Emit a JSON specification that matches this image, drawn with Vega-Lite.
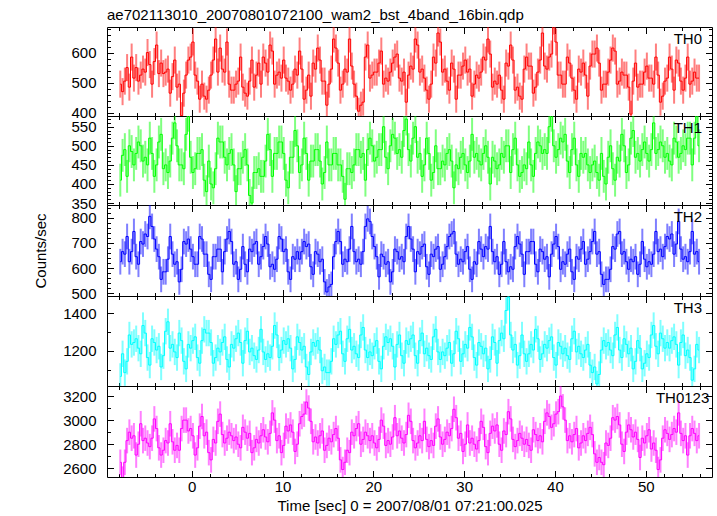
{
"$schema":"https://vega.github.io/schema/vega-lite/v6.json",
"padding":{"left":33,"top":7,"right":5,"bottom":3},
"config":{"view":{"stroke":null},"axis":{"grid":false,"domainColor":"#000","tickColor":"#000","labelColor":"#000","labelFont":"Liberation Sans","labelFontSize":15,"titleFont":"Liberation Sans","titleFontSize":15,"titleFontWeight":"normal","titleColor":"#000","labelFlush":false},"axisX":{"labelPadding":9,"titlePadding":4},"axisY":{"labelPadding":17.5,"titlePadding":22,"format":"d"}},
"spacing":0,
"bounds":"flush",
"data":{"values":[
{"t":-7.875,"a":495,"b":410,"c":625,"d":1065,"e":2650},
{"t":-7.625,"a":470,"b":475,"c":665,"d":1185,"e":2510},
{"t":-7.375,"a":505,"b":490,"c":655,"d":1085,"e":2650},
{"t":-7.125,"a":550,"b":420,"c":725,"d":1145,"e":2830},
{"t":-6.875,"a":485,"b":500,"c":625,"d":1285,"e":2900},
{"t":-6.625,"a":585,"b":485,"c":665,"d":1235,"e":2850},
{"t":-6.375,"a":515,"b":450,"c":745,"d":1245,"e":2870},
{"t":-6.125,"a":550,"b":480,"c":645,"d":1265,"e":2710},
{"t":-5.875,"a":505,"b":510,"c":615,"d":1215,"e":2800},
{"t":-5.625,"a":525,"b":500,"c":705,"d":1185,"e":2970},
{"t":-5.375,"a":545,"b":460,"c":695,"d":1335,"e":2830},
{"t":-5.125,"a":535,"b":470,"c":735,"d":1295,"e":2850},
{"t":-4.875,"a":600,"b":450,"c":725,"d":1165,"e":2810},
{"t":-4.625,"a":560,"b":520,"c":805,"d":1125,"e":2780},
{"t":-4.375,"a":495,"b":480,"c":765,"d":1265,"e":2850},
{"t":-4.125,"a":570,"b":420,"c":715,"d":1245,"e":3010},
{"t":-3.875,"a":625,"b":450,"c":675,"d":1205,"e":2930},
{"t":-3.625,"a":530,"b":510,"c":645,"d":1225,"e":2770},
{"t":-3.375,"a":565,"b":530,"c":555,"d":1115,"e":2710},
{"t":-3.125,"a":530,"b":440,"c":585,"d":1175,"e":2750},
{"t":-2.875,"a":535,"b":450,"c":585,"d":1305,"e":2830},
{"t":-2.625,"a":545,"b":430,"c":635,"d":1355,"e":2810},
{"t":-2.375,"a":465,"b":460,"c":725,"d":1215,"e":2970},
{"t":-2.125,"a":520,"b":520,"c":655,"d":1235,"e":2820},
{"t":-1.875,"a":575,"b":560,"c":615,"d":1195,"e":2750},
{"t":-1.625,"a":485,"b":500,"c":625,"d":1165,"e":2790},
{"t":-1.375,"a":495,"b":450,"c":545,"d":1295,"e":2750},
{"t":-1.125,"a":390,"b":450,"c":595,"d":1255,"e":2930},
{"t":-0.875,"a":465,"b":440,"c":705,"d":1145,"e":3000},
{"t":-0.625,"a":525,"b":530,"c":695,"d":1105,"e":3000},
{"t":-0.375,"a":575,"b":580,"c":715,"d":1235,"e":2910},
{"t":-0.125,"a":585,"b":470,"c":675,"d":1215,"e":2930},
{"t":0.125,"a":635,"b":430,"c":645,"d":1255,"e":2870},
{"t":0.375,"a":525,"b":440,"c":615,"d":1275,"e":2710},
{"t":0.625,"a":505,"b":480,"c":615,"d":1165,"e":2770},
{"t":0.875,"a":445,"b":480,"c":725,"d":1135,"e":2950},
{"t":1.125,"a":495,"b":490,"c":715,"d":1255,"e":3030},
{"t":1.375,"a":455,"b":410,"c":655,"d":1315,"e":2870},
{"t":1.625,"a":445,"b":380,"c":655,"d":1295,"e":2900},
{"t":1.875,"a":475,"b":460,"c":575,"d":1295,"e":2730},
{"t":2.125,"a":525,"b":400,"c":555,"d":1245,"e":2670},
{"t":2.375,"a":575,"b":390,"c":645,"d":1135,"e":2840},
{"t":2.625,"a":645,"b":440,"c":645,"d":1165,"e":2810},
{"t":2.875,"a":535,"b":520,"c":675,"d":1215,"e":2990},
{"t":3.125,"a":615,"b":510,"c":675,"d":1195,"e":3050},
{"t":3.375,"a":545,"b":510,"c":585,"d":1245,"e":2880},
{"t":3.625,"a":535,"b":470,"c":665,"d":1275,"e":2810},
{"t":3.875,"a":635,"b":450,"c":715,"d":1155,"e":2850},
{"t":4.125,"a":495,"b":480,"c":745,"d":1115,"e":2900},
{"t":4.375,"a":475,"b":490,"c":705,"d":1235,"e":2870},
{"t":4.625,"a":475,"b":450,"c":615,"d":1215,"e":2830},
{"t":4.875,"a":495,"b":380,"c":625,"d":1265,"e":2860},
{"t":5.125,"a":505,"b":440,"c":555,"d":1295,"e":2800},
{"t":5.375,"a":585,"b":440,"c":595,"d":1245,"e":2770},
{"t":5.625,"a":485,"b":470,"c":685,"d":1135,"e":2940},
{"t":5.875,"a":465,"b":490,"c":615,"d":1255,"e":2900},
{"t":6.125,"a":455,"b":450,"c":585,"d":1305,"e":2850},
{"t":6.375,"a":505,"b":370,"c":675,"d":1195,"e":2890},
{"t":6.625,"a":575,"b":350,"c":665,"d":1215,"e":2730},
{"t":6.875,"a":485,"b":430,"c":695,"d":1175,"e":2770},
{"t":7.125,"a":525,"b":430,"c":705,"d":1155,"e":2840},
{"t":7.375,"a":565,"b":440,"c":615,"d":1205,"e":2810},
{"t":7.625,"a":495,"b":420,"c":645,"d":1315,"e":2870},
{"t":7.875,"a":585,"b":420,"c":685,"d":1195,"e":2920},
{"t":8.125,"a":565,"b":460,"c":725,"d":1155,"e":2860},
{"t":8.375,"a":535,"b":530,"c":695,"d":1185,"e":2820},
{"t":8.625,"a":625,"b":490,"c":605,"d":1165,"e":2890},
{"t":8.875,"a":605,"b":420,"c":615,"d":1225,"e":3060},
{"t":9.125,"a":495,"b":480,"c":595,"d":1335,"e":3000},
{"t":9.375,"a":525,"b":480,"c":635,"d":1285,"e":2830},
{"t":9.625,"a":535,"b":510,"c":725,"d":1165,"e":2870},
{"t":9.875,"a":515,"b":510,"c":715,"d":1205,"e":2730},
{"t":10.125,"a":575,"b":480,"c":665,"d":1255,"e":2790},
{"t":10.375,"a":515,"b":410,"c":675,"d":1235,"e":2950},
{"t":10.625,"a":505,"b":390,"c":585,"d":1265,"e":2910},
{"t":10.875,"a":475,"b":470,"c":555,"d":1215,"e":2960},
{"t":11.125,"a":495,"b":470,"c":645,"d":1105,"e":2900},
{"t":11.375,"a":545,"b":540,"c":635,"d":1155,"e":2740},
{"t":11.625,"a":525,"b":500,"c":665,"d":1275,"e":2800},
{"t":11.875,"a":605,"b":430,"c":635,"d":1245,"e":2970},
{"t":12.125,"a":545,"b":450,"c":665,"d":1205,"e":3030},
{"t":12.375,"a":445,"b":520,"c":705,"d":1225,"e":3050},
{"t":12.625,"a":475,"b":480,"c":685,"d":1115,"e":3150},
{"t":12.875,"a":525,"b":410,"c":695,"d":1075,"e":3100},
{"t":13.125,"a":455,"b":460,"c":605,"d":1195,"e":2990},
{"t":13.375,"a":565,"b":460,"c":575,"d":1245,"e":2820},
{"t":13.625,"a":545,"b":490,"c":665,"d":1225,"e":2860},
{"t":13.875,"a":615,"b":490,"c":655,"d":1255,"e":2810},
{"t":14.125,"a":575,"b":460,"c":625,"d":1205,"e":2870},
{"t":14.375,"a":505,"b":400,"c":635,"d":1095,"e":2910},
{"t":14.625,"a":505,"b":430,"c":545,"d":1115,"e":2750},
{"t":14.875,"a":425,"b":510,"c":505,"d":1085,"e":2790},
{"t":15.125,"a":495,"b":450,"c":525,"d":1085,"e":2850},
{"t":15.375,"a":545,"b":450,"c":535,"d":1145,"e":2820},
{"t":15.625,"a":645,"b":480,"c":645,"d":1265,"e":2880},
{"t":15.875,"a":615,"b":480,"c":705,"d":1235,"e":2930},
{"t":16.125,"a":565,"b":450,"c":745,"d":1285,"e":2850},
{"t":16.375,"a":475,"b":450,"c":705,"d":1305,"e":2670},
{"t":16.625,"a":495,"b":420,"c":615,"d":1185,"e":2590},
{"t":16.875,"a":545,"b":360,"c":635,"d":1145,"e":2650},
{"t":17.125,"a":535,"b":440,"c":625,"d":1265,"e":2750},
{"t":17.375,"a":645,"b":440,"c":675,"d":1315,"e":2730},
{"t":17.625,"a":555,"b":430,"c":765,"d":1205,"e":2900},
{"t":17.875,"a":495,"b":450,"c":665,"d":1225,"e":2870},
{"t":18.125,"a":455,"b":490,"c":625,"d":1185,"e":2930},
{"t":18.375,"a":405,"b":490,"c":635,"d":1165,"e":2970},
{"t":18.625,"a":425,"b":470,"c":615,"d":1285,"e":2800},
{"t":18.875,"a":435,"b":480,"c":665,"d":1325,"e":2840},
{"t":19.125,"a":585,"b":410,"c":765,"d":1205,"e":2900},
{"t":19.375,"a":625,"b":490,"c":795,"d":1165,"e":2870},
{"t":19.625,"a":515,"b":520,"c":785,"d":1195,"e":2830},
{"t":19.875,"a":525,"b":500,"c":725,"d":1175,"e":2870},
{"t":20.125,"a":535,"b":460,"c":685,"d":1225,"e":2810},
{"t":20.375,"a":535,"b":470,"c":645,"d":1255,"e":2770},
{"t":20.625,"a":565,"b":490,"c":565,"d":1145,"e":2840},
{"t":20.875,"a":605,"b":490,"c":655,"d":1105,"e":3000},
{"t":21.125,"a":495,"b":550,"c":645,"d":1225,"e":2950},
{"t":21.375,"a":515,"b":470,"c":615,"d":1275,"e":2790},
{"t":21.625,"a":505,"b":440,"c":625,"d":1245,"e":2830},
{"t":21.875,"a":535,"b":500,"c":545,"d":1265,"e":2800},
{"t":22.125,"a":565,"b":530,"c":585,"d":1225,"e":2860},
{"t":22.375,"a":585,"b":520,"c":675,"d":1115,"e":3020},
{"t":22.625,"a":595,"b":480,"c":665,"d":1235,"e":2870},
{"t":22.875,"a":515,"b":490,"c":635,"d":1285,"e":2910},
{"t":23.125,"a":505,"b":470,"c":645,"d":1175,"e":2850},
{"t":23.375,"a":535,"b":540,"c":625,"d":1135,"e":2810},
{"t":23.625,"a":435,"b":570,"c":725,"d":1255,"e":2880},
{"t":23.875,"a":525,"b":490,"c":765,"d":1235,"e":3040},
{"t":24.125,"a":555,"b":460,"c":715,"d":1265,"e":2990},
{"t":24.375,"a":545,"b":520,"c":675,"d":1285,"e":2830},
{"t":24.625,"a":645,"b":550,"c":585,"d":1175,"e":2770},
{"t":24.875,"a":625,"b":470,"c":665,"d":1135,"e":2810},
{"t":25.125,"a":535,"b":480,"c":655,"d":1255,"e":2870},
{"t":25.375,"a":545,"b":420,"c":685,"d":1295,"e":2830},
{"t":25.625,"a":515,"b":450,"c":695,"d":1185,"e":2990},
{"t":25.875,"a":475,"b":520,"c":605,"d":1215,"e":2840},
{"t":26.125,"a":445,"b":480,"c":575,"d":1175,"e":2780},
{"t":26.375,"a":495,"b":410,"c":655,"d":1155,"e":2830},
{"t":26.625,"a":585,"b":430,"c":645,"d":1275,"e":2790},
{"t":26.875,"a":565,"b":500,"c":675,"d":1315,"e":2950},
{"t":27.125,"a":665,"b":440,"c":685,"d":1195,"e":3010},
{"t":27.375,"a":635,"b":440,"c":595,"d":1155,"e":2860},
{"t":27.625,"a":535,"b":460,"c":615,"d":1195,"e":2800},
{"t":27.875,"a":545,"b":450,"c":645,"d":1175,"e":2840},
{"t":28.125,"a":505,"b":480,"c":685,"d":1215,"e":2900},
{"t":28.375,"a":475,"b":490,"c":725,"d":1245,"e":2870},
{"t":28.625,"a":565,"b":460,"c":735,"d":1135,"e":2930},
{"t":28.875,"a":545,"b":390,"c":745,"d":1185,"e":3090},
{"t":29.125,"a":445,"b":450,"c":655,"d":1305,"e":3020},
{"t":29.375,"a":525,"b":440,"c":615,"d":1265,"e":2850},
{"t":29.625,"a":525,"b":470,"c":635,"d":1145,"e":2890},
{"t":29.875,"a":555,"b":480,"c":625,"d":1185,"e":2740},
{"t":30.125,"a":575,"b":450,"c":665,"d":1235,"e":2800},
{"t":30.375,"a":535,"b":430,"c":685,"d":1215,"e":2960},
{"t":30.625,"a":545,"b":460,"c":595,"d":1325,"e":2810},
{"t":30.875,"a":455,"b":530,"c":555,"d":1275,"e":2850},
{"t":31.125,"a":495,"b":470,"c":625,"d":1165,"e":2800},
{"t":31.375,"a":525,"b":480,"c":615,"d":1125,"e":2760},
{"t":31.625,"a":515,"b":460,"c":705,"d":1245,"e":2830},
{"t":31.875,"a":535,"b":450,"c":675,"d":1225,"e":2990},
{"t":32.125,"a":585,"b":480,"c":645,"d":1185,"e":2940},
{"t":32.375,"a":575,"b":500,"c":685,"d":1215,"e":2780},
{"t":32.625,"a":645,"b":470,"c":675,"d":1105,"e":2730},
{"t":32.875,"a":595,"b":400,"c":765,"d":1155,"e":2890},
{"t":33.125,"a":485,"b":470,"c":665,"d":1275,"e":2950},
{"t":33.375,"a":505,"b":460,"c":625,"d":1245,"e":2910},
{"t":33.625,"a":495,"b":440,"c":645,"d":1135,"e":2960},
{"t":33.875,"a":525,"b":450,"c":575,"d":1255,"e":2800},
{"t":34.125,"a":475,"b":480,"c":615,"d":1295,"e":2750},
{"t":34.375,"a":445,"b":470,"c":705,"d":1265,"e":2910},
{"t":34.625,"a":565,"b":500,"c":625,"d":1415,"e":2880},
{"t":34.875,"a":555,"b":500,"c":585,"d":1485,"e":3070},
{"t":35.125,"a":625,"b":430,"c":605,"d":1285,"e":3010},
{"t":35.375,"a":575,"b":490,"c":595,"d":1205,"e":2840},
{"t":35.625,"a":475,"b":520,"c":685,"d":1235,"e":2780},
{"t":35.875,"a":485,"b":450,"c":725,"d":1125,"e":2830},
{"t":36.125,"a":455,"b":420,"c":695,"d":1175,"e":2890},
{"t":36.375,"a":445,"b":430,"c":655,"d":1285,"e":2850},
{"t":36.625,"a":545,"b":450,"c":575,"d":1185,"e":2800},
{"t":36.875,"a":585,"b":440,"c":665,"d":1145,"e":2840},
{"t":37.125,"a":555,"b":510,"c":665,"d":1185,"e":2790},
{"t":37.375,"a":555,"b":450,"c":705,"d":1235,"e":2750},
{"t":37.625,"a":465,"b":420,"c":705,"d":1205,"e":2920},
{"t":37.875,"a":485,"b":480,"c":615,"d":1315,"e":2880},
{"t":38.125,"a":535,"b":510,"c":585,"d":1265,"e":2830},
{"t":38.375,"a":575,"b":500,"c":675,"d":1155,"e":2870},
{"t":38.625,"a":665,"b":480,"c":665,"d":1185,"e":2820},
{"t":38.875,"a":555,"b":490,"c":635,"d":1235,"e":2990},
{"t":39.125,"a":545,"b":480,"c":645,"d":1215,"e":3060},
{"t":39.375,"a":585,"b":550,"c":565,"d":1255,"e":3030},
{"t":39.625,"a":595,"b":580,"c":655,"d":1275,"e":2940},
{"t":39.875,"a":705,"b":500,"c":695,"d":1165,"e":2970},
{"t":40.125,"a":635,"b":470,"c":725,"d":1125,"e":3050},
{"t":40.375,"a":525,"b":490,"c":685,"d":1245,"e":3070},
{"t":40.625,"a":525,"b":520,"c":595,"d":1225,"e":3200},
{"t":40.875,"a":495,"b":510,"c":625,"d":1185,"e":3110},
{"t":41.125,"a":495,"b":530,"c":615,"d":1215,"e":3000},
{"t":41.375,"a":585,"b":460,"c":655,"d":1175,"e":2830},
{"t":41.625,"a":565,"b":430,"c":675,"d":1155,"e":2870},
{"t":41.875,"a":515,"b":490,"c":585,"d":1265,"e":2820},
{"t":42.125,"a":475,"b":520,"c":555,"d":1305,"e":2880},
{"t":42.375,"a":445,"b":450,"c":645,"d":1195,"e":2930},
{"t":42.625,"a":545,"b":420,"c":635,"d":1225,"e":2770},
{"t":42.875,"a":535,"b":480,"c":675,"d":1185,"e":2810},
{"t":43.125,"a":565,"b":470,"c":705,"d":1165,"e":2870},
{"t":43.375,"a":525,"b":480,"c":615,"d":1205,"e":2830},
{"t":43.625,"a":455,"b":450,"c":635,"d":1235,"e":2890},
{"t":43.875,"a":555,"b":430,"c":665,"d":1125,"e":2940},
{"t":44.125,"a":595,"b":450,"c":705,"d":1085,"e":2880},
{"t":44.375,"a":595,"b":460,"c":745,"d":1115,"e":2720},
{"t":44.625,"a":615,"b":430,"c":655,"d":1025,"e":2650},
{"t":44.875,"a":565,"b":410,"c":665,"d":1075,"e":2690},
{"t":45.125,"a":475,"b":480,"c":575,"d":1205,"e":2650},
{"t":45.375,"a":495,"b":420,"c":535,"d":1255,"e":2630},
{"t":45.625,"a":495,"b":400,"c":555,"d":1225,"e":2810},
{"t":45.875,"a":535,"b":470,"c":555,"d":1245,"e":2790},
{"t":46.125,"a":575,"b":500,"c":595,"d":1205,"e":2850},
{"t":46.375,"a":615,"b":440,"c":685,"d":1175,"e":3020},
{"t":46.625,"a":605,"b":410,"c":675,"d":1285,"e":3000},
{"t":46.875,"a":495,"b":470,"c":735,"d":1325,"e":3030},
{"t":47.125,"a":505,"b":460,"c":745,"d":1205,"e":2960},
{"t":47.375,"a":535,"b":530,"c":655,"d":1165,"e":2800},
{"t":47.625,"a":525,"b":500,"c":665,"d":1265,"e":2740},
{"t":47.875,"a":525,"b":430,"c":625,"d":1235,"e":2900},
{"t":48.125,"a":485,"b":450,"c":595,"d":1185,"e":2960},
{"t":48.375,"a":395,"b":520,"c":635,"d":1215,"e":2920},
{"t":48.625,"a":505,"b":540,"c":625,"d":1105,"e":2860},
{"t":48.875,"a":565,"b":470,"c":645,"d":1145,"e":2900},
{"t":49.125,"a":485,"b":480,"c":575,"d":1255,"e":2840},
{"t":49.375,"a":495,"b":460,"c":615,"d":1215,"e":2690},
{"t":49.625,"a":495,"b":490,"c":705,"d":1105,"e":2850},
{"t":49.875,"a":535,"b":510,"c":635,"d":1135,"e":2810},
{"t":50.125,"a":555,"b":480,"c":605,"d":1185,"e":2870},
{"t":50.375,"a":515,"b":460,"c":625,"d":1165,"e":2920},
{"t":50.625,"a":515,"b":490,"c":615,"d":1285,"e":2760},
{"t":50.875,"a":495,"b":560,"c":655,"d":1335,"e":2810},
{"t":51.125,"a":585,"b":480,"c":745,"d":1225,"e":2750},
{"t":51.375,"a":525,"b":490,"c":665,"d":1185,"e":2590},
{"t":51.625,"a":435,"b":510,"c":675,"d":1295,"e":2670},
{"t":51.875,"a":455,"b":500,"c":645,"d":1265,"e":2850},
{"t":52.125,"a":505,"b":470,"c":685,"d":1215,"e":2920},
{"t":52.375,"a":515,"b":480,"c":725,"d":1245,"e":2890},
{"t":52.625,"a":585,"b":460,"c":715,"d":1215,"e":2840},
{"t":52.875,"a":545,"b":450,"c":735,"d":1255,"e":2880},
{"t":53.125,"a":475,"b":520,"c":655,"d":1275,"e":2930},
{"t":53.375,"a":575,"b":510,"c":695,"d":1235,"e":2900},
{"t":53.625,"a":565,"b":470,"c":785,"d":1125,"e":3060},
{"t":53.875,"a":505,"b":480,"c":675,"d":1245,"e":2890},
{"t":54.125,"a":475,"b":500,"c":635,"d":1285,"e":2830},
{"t":54.375,"a":515,"b":490,"c":645,"d":1175,"e":2870},
{"t":54.625,"a":585,"b":520,"c":625,"d":1205,"e":2710},
{"t":54.875,"a":495,"b":520,"c":665,"d":1165,"e":2870},
{"t":55.125,"a":505,"b":450,"c":745,"d":1045,"e":2930},
{"t":55.375,"a":535,"b":520,"c":655,"d":1105,"e":2890},
{"t":55.625,"a":515,"b":580,"c":665,"d":1235,"e":2830},
{"t":55.875,"a":515,"b":500,"c":625,"d":1205,"e":2870}
]},
"transform":[
{"fold":["a","b","c","d","e"],"as":["key","v"]},
{"lookup":"key","from":{"data":{"values":[{"key":"a","err":45},{"key":"b","err":43},{"key":"c","err":51},{"key":"d","err":70},{"key":"e","err":106}]},"key":"key","fields":["err"]}}
],
"vconcat":[
{"width":605,"height":89,
"title":{"text":"ae702113010_20070801072100_wam2_bst_4band_16bin.qdp","anchor":"start","frame":"group","font":"Liberation Sans","fontSize":15,"fontWeight":"normal","color":"#000","offset":4},
"layer":[
{"transform":[{"filter":"datum.key === 'a'"}],
"mark":{"type":"errorbar","color":"#ff0000","opacity":0.5,"thickness":2,"clip":true},
"encoding":{
"x":{"field":"t","type":"quantitative","scale":{"domain":[-9.34,57.3],"nice":false,"zero":false},"axis":{"orient":"bottom","values":[-8,-6,-4,-2,0,2,4,6,8,10,12,14,16,18,20,22,24,26,28,30,32,34,36,38,40,42,44,46,48,50,52,54,56],"tickSize":{"condition":{"test":"datum.value % 10 === 0","value":-6.5},"value":-3.5},"labels":false,"title":null}},
"y":{"field":"v","type":"quantitative","scale":{"domain":[389,685],"nice":false,"zero":false},"axis":{"orient":"left","values":[400,420,440,460,480,500,520,540,560,580,600,620,640,660,680],"tickSize":{"condition":{"test":"datum.value % 100 === 0","value":-6.5},"value":-3.5},"labelExpr":"datum.value % 100 === 0 ? datum.label : ''","title":null}},
"yError":{"field":"err"}}},
{"transform":[{"filter":"datum.key === 'a'"}],
"mark":{"type":"line","interpolate":"step","color":"#ff0000","strokeWidth":1,"clip":true},
"encoding":{
"x":{"field":"t","type":"quantitative","scale":{"domain":[-9.34,57.3],"nice":false,"zero":false},"axis":{"orient":"top","values":[-8,-6,-4,-2,0,2,4,6,8,10,12,14,16,18,20,22,24,26,28,30,32,34,36,38,40,42,44,46,48,50,52,54,56],"tickSize":{"condition":{"test":"datum.value % 10 === 0","value":-6.5},"value":-3.5},"labels":false,"title":null}},
"y":{"field":"v","type":"quantitative","scale":{"domain":[389,685],"nice":false,"zero":false},"axis":{"orient":"right","values":[400,420,440,460,480,500,520,540,560,580,600,620,640,660,680],"tickSize":{"condition":{"test":"datum.value % 100 === 0","value":-6.5},"value":-3.5},"labels":false,"title":null}}}},
{"data":{"values":[{"lab":"TH0"}]},
"mark":{"type":"text","align":"right","baseline":"top","font":"Liberation Sans","fontSize":15,"color":"#000"},
"encoding":{"x":{"datum":56.2,"type":"quantitative","axis":null},"y":{"datum":670,"type":"quantitative","axis":null},"text":{"field":"lab"}}}
],
"resolve":{"axis":{"x":"independent","y":"independent"}}},
{"width":605,"height":89,
"layer":[
{"transform":[{"filter":"datum.key === 'b'"}],
"mark":{"type":"errorbar","color":"#00ff00","opacity":0.5,"thickness":2,"clip":true},
"encoding":{
"x":{"field":"t","type":"quantitative","scale":{"domain":[-9.34,57.3],"nice":false,"zero":false},"axis":{"orient":"bottom","values":[-8,-6,-4,-2,0,2,4,6,8,10,12,14,16,18,20,22,24,26,28,30,32,34,36,38,40,42,44,46,48,50,52,54,56],"tickSize":{"condition":{"test":"datum.value % 10 === 0","value":-6.5},"value":-3.5},"labels":false,"title":null}},
"y":{"field":"v","type":"quantitative","scale":{"domain":[345,578],"nice":false,"zero":false},"axis":{"orient":"left","values":[350,360,370,380,390,400,410,420,430,440,450,460,470,480,490,500,510,520,530,540,550,560,570],"tickSize":{"condition":{"test":"datum.value % 50 === 0","value":-6.5},"value":-3.5},"labelExpr":"datum.value % 50 === 0 ? datum.label : ''","title":null}},
"yError":{"field":"err"}}},
{"transform":[{"filter":"datum.key === 'b'"}],
"mark":{"type":"line","interpolate":"step","color":"#00ff00","strokeWidth":1,"clip":true},
"encoding":{
"x":{"field":"t","type":"quantitative","scale":{"domain":[-9.34,57.3],"nice":false,"zero":false},"axis":{"orient":"top","values":[-8,-6,-4,-2,0,2,4,6,8,10,12,14,16,18,20,22,24,26,28,30,32,34,36,38,40,42,44,46,48,50,52,54,56],"tickSize":{"condition":{"test":"datum.value % 10 === 0","value":-6.5},"value":-3.5},"labels":false,"title":null}},
"y":{"field":"v","type":"quantitative","scale":{"domain":[345,578],"nice":false,"zero":false},"axis":{"orient":"right","values":[350,360,370,380,390,400,410,420,430,440,450,460,470,480,490,500,510,520,530,540,550,560,570],"tickSize":{"condition":{"test":"datum.value % 50 === 0","value":-6.5},"value":-3.5},"labels":false,"title":null}}}},
{"data":{"values":[{"lab":"TH1"}]},
"mark":{"type":"text","align":"right","baseline":"top","font":"Liberation Sans","fontSize":15,"color":"#000"},
"encoding":{"x":{"datum":56.2,"type":"quantitative","axis":null},"y":{"datum":566,"type":"quantitative","axis":null},"text":{"field":"lab"}}}
],
"resolve":{"axis":{"x":"independent","y":"independent"}}},
{"width":605,"height":91,
"layer":[
{"transform":[{"filter":"datum.key === 'c'"}],
"mark":{"type":"errorbar","color":"#0000ff","opacity":0.5,"thickness":2,"clip":true},
"encoding":{
"x":{"field":"t","type":"quantitative","scale":{"domain":[-9.34,57.3],"nice":false,"zero":false},"axis":{"orient":"bottom","values":[-8,-6,-4,-2,0,2,4,6,8,10,12,14,16,18,20,22,24,26,28,30,32,34,36,38,40,42,44,46,48,50,52,54,56],"tickSize":{"condition":{"test":"datum.value % 10 === 0","value":-6.5},"value":-3.5},"labels":false,"title":null}},
"y":{"field":"v","type":"quantitative","scale":{"domain":[489,850],"nice":false,"zero":false},"axis":{"orient":"left","values":[500,520,540,560,580,600,620,640,660,680,700,720,740,760,780,800,820,840],"tickSize":{"condition":{"test":"datum.value % 100 === 0","value":-6.5},"value":-3.5},"labelExpr":"datum.value % 100 === 0 ? datum.label : ''","title":"Counts/sec"}},
"yError":{"field":"err"}}},
{"transform":[{"filter":"datum.key === 'c'"}],
"mark":{"type":"line","interpolate":"step","color":"#0000ff","strokeWidth":1,"clip":true},
"encoding":{
"x":{"field":"t","type":"quantitative","scale":{"domain":[-9.34,57.3],"nice":false,"zero":false},"axis":{"orient":"top","values":[-8,-6,-4,-2,0,2,4,6,8,10,12,14,16,18,20,22,24,26,28,30,32,34,36,38,40,42,44,46,48,50,52,54,56],"tickSize":{"condition":{"test":"datum.value % 10 === 0","value":-6.5},"value":-3.5},"labels":false,"title":null}},
"y":{"field":"v","type":"quantitative","scale":{"domain":[489,850],"nice":false,"zero":false},"axis":{"orient":"right","values":[500,520,540,560,580,600,620,640,660,680,700,720,740,760,780,800,820,840],"tickSize":{"condition":{"test":"datum.value % 100 === 0","value":-6.5},"value":-3.5},"labels":false,"title":null}}}},
{"data":{"values":[{"lab":"TH2"}]},
"mark":{"type":"text","align":"right","baseline":"top","font":"Liberation Sans","fontSize":15,"color":"#000"},
"encoding":{"x":{"datum":56.2,"type":"quantitative","axis":null},"y":{"datum":832,"type":"quantitative","axis":null},"text":{"field":"lab"}}}
],
"resolve":{"axis":{"x":"independent","y":"independent"}}},
{"width":605,"height":90,
"layer":[
{"transform":[{"filter":"datum.key === 'd'"}],
"mark":{"type":"errorbar","color":"#00ffff","opacity":0.5,"thickness":2,"clip":true},
"encoding":{
"x":{"field":"t","type":"quantitative","scale":{"domain":[-9.34,57.3],"nice":false,"zero":false},"axis":{"orient":"bottom","values":[-8,-6,-4,-2,0,2,4,6,8,10,12,14,16,18,20,22,24,26,28,30,32,34,36,38,40,42,44,46,48,50,52,54,56],"tickSize":{"condition":{"test":"datum.value % 10 === 0","value":-6.5},"value":-3.5},"labels":false,"title":null}},
"y":{"field":"v","type":"quantitative","scale":{"domain":[1014,1492],"nice":false,"zero":false},"axis":{"orient":"left","values":[1100,1200,1300,1400],"tickSize":{"condition":{"test":"datum.value % 200 === 0","value":-6.5},"value":-3.5},"labelExpr":"datum.value % 200 === 0 ? datum.label : ''","title":null}},
"yError":{"field":"err"}}},
{"transform":[{"filter":"datum.key === 'd'"}],
"mark":{"type":"line","interpolate":"step","color":"#00ffff","strokeWidth":1,"clip":true},
"encoding":{
"x":{"field":"t","type":"quantitative","scale":{"domain":[-9.34,57.3],"nice":false,"zero":false},"axis":{"orient":"top","values":[-8,-6,-4,-2,0,2,4,6,8,10,12,14,16,18,20,22,24,26,28,30,32,34,36,38,40,42,44,46,48,50,52,54,56],"tickSize":{"condition":{"test":"datum.value % 10 === 0","value":-6.5},"value":-3.5},"labels":false,"title":null}},
"y":{"field":"v","type":"quantitative","scale":{"domain":[1014,1492],"nice":false,"zero":false},"axis":{"orient":"right","values":[1100,1200,1300,1400],"tickSize":{"condition":{"test":"datum.value % 200 === 0","value":-6.5},"value":-3.5},"labels":false,"title":null}}}},
{"data":{"values":[{"lab":"TH3"}]},
"mark":{"type":"text","align":"right","baseline":"top","font":"Liberation Sans","fontSize":15,"color":"#000"},
"encoding":{"x":{"datum":56.2,"type":"quantitative","axis":null},"y":{"datum":1467,"type":"quantitative","axis":null},"text":{"field":"lab"}}}
],
"resolve":{"axis":{"x":"independent","y":"independent"}}},
{"width":605,"height":91,
"layer":[
{"transform":[{"filter":"datum.key === 'e'"}],
"mark":{"type":"errorbar","color":"#ff00ff","opacity":0.5,"thickness":2,"clip":true},
"encoding":{
"x":{"field":"t","type":"quantitative","scale":{"domain":[-9.34,57.3],"nice":false,"zero":false},"axis":{"orient":"bottom","values":[-8,-6,-4,-2,0,2,4,6,8,10,12,14,16,18,20,22,24,26,28,30,32,34,36,38,40,42,44,46,48,50,52,54,56],"tickSize":{"condition":{"test":"datum.value % 10 === 0","value":-6.5},"value":-3.5},"labelExpr":"datum.value % 10 === 0 ? datum.label : ''","title":"Time [sec] 0 = 2007/08/01 07:21:00.025"}},
"y":{"field":"v","type":"quantitative","scale":{"domain":[2528,3283],"nice":false,"zero":false},"axis":{"orient":"left","values":[2600,2700,2800,2900,3000,3100,3200],"tickSize":{"condition":{"test":"datum.value % 200 === 0","value":-6.5},"value":-3.5},"labelExpr":"datum.value % 200 === 0 ? datum.label : ''","title":null}},
"yError":{"field":"err"}}},
{"transform":[{"filter":"datum.key === 'e'"}],
"mark":{"type":"line","interpolate":"step","color":"#ff00ff","strokeWidth":1,"clip":true},
"encoding":{
"x":{"field":"t","type":"quantitative","scale":{"domain":[-9.34,57.3],"nice":false,"zero":false},"axis":{"orient":"top","values":[-8,-6,-4,-2,0,2,4,6,8,10,12,14,16,18,20,22,24,26,28,30,32,34,36,38,40,42,44,46,48,50,52,54,56],"tickSize":{"condition":{"test":"datum.value % 10 === 0","value":-6.5},"value":-3.5},"labels":false,"title":null}},
"y":{"field":"v","type":"quantitative","scale":{"domain":[2528,3283],"nice":false,"zero":false},"axis":{"orient":"right","values":[2600,2700,2800,2900,3000,3100,3200],"tickSize":{"condition":{"test":"datum.value % 200 === 0","value":-6.5},"value":-3.5},"labels":false,"title":null}}}},
{"data":{"values":[{"lab":"TH0123"}]},
"mark":{"type":"text","align":"right","baseline":"top","font":"Liberation Sans","fontSize":15,"color":"#000"},
"encoding":{"x":{"datum":57.0,"type":"quantitative","axis":null},"y":{"datum":3243,"type":"quantitative","axis":null},"text":{"field":"lab"}}}
],
"resolve":{"axis":{"x":"independent","y":"independent"}}}
]
}
